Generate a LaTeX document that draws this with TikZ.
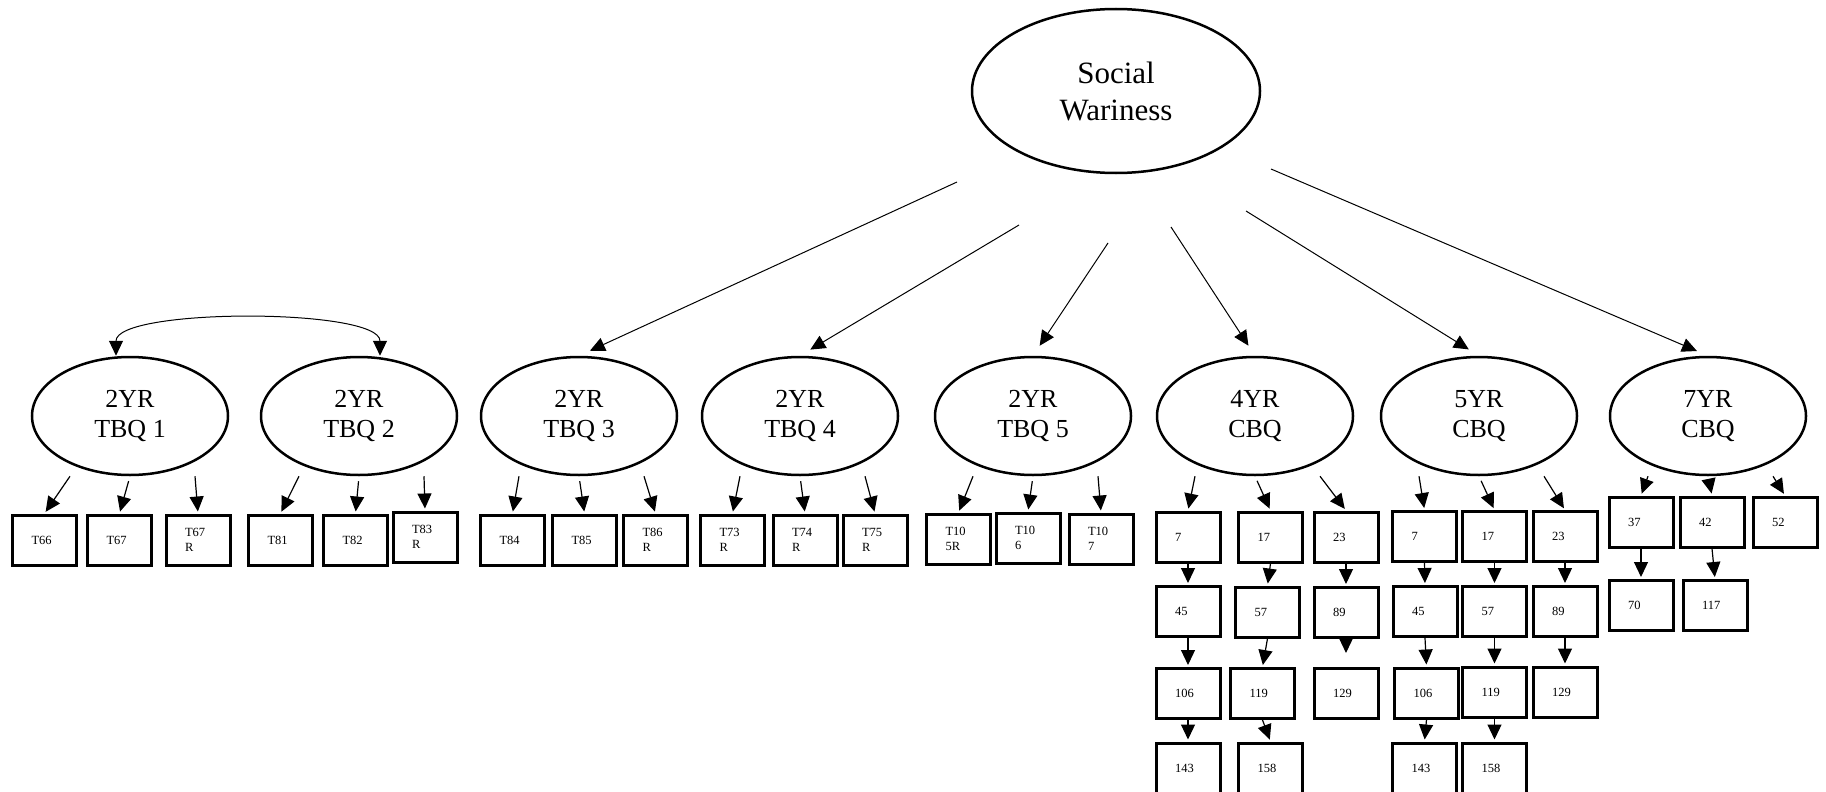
\documentclass[tikz,border=0pt]{standalone}
\usepackage{fontspec}
\setmainfont{Liberation Serif}
\usetikzlibrary{shapes.geometric,arrows.meta}

\tikzset{
  >={Triangle[length=15pt,width=14pt]},
  latent/.style={draw, ellipse, line width=2.5pt, inner sep=0pt,
    minimum width=196pt, minimum height=118pt, align=center,
    font=\fontsize{26}{30}\selectfont},
  item/.style={draw, rectangle, line width=3pt, inner xsep=19pt, inner ysep=0pt,
    text width=26pt, minimum height=50pt, align=left,
    font=\fontsize{12.5}{15}\selectfont},
  load/.style={->, line width=1pt, shorten >=12pt},
  ind/.style={->, line width=1.2pt, shorten >=2pt},
}

\begin{document}
\begin{tikzpicture}[x=1pt, y=-1pt]

      \useasboundingbox (0,0) rectangle (1826,792);

      % Top factor
      \node[latent, minimum width=288pt, minimum height=164pt,
            font=\fontsize{31}{37}\selectfont] (sw) at (1116,91) {Social\\Wariness};

      % Lower factors
      \foreach \nm/\x/\a/\b in {tbq1/130/2YR/TBQ 1, tbq2/359/2YR/TBQ 2,
          tbq3/579/2YR/TBQ 3, tbq4/800/2YR/TBQ 4, tbq5/1033/2YR/TBQ 5,
          cbq4/1255/4YR/CBQ, cbq5/1479/5YR/CBQ, cbq7/1708/7YR/CBQ}
          \node[latent] (\nm) at (\x,416) {\a\\\b};

      % TBQ items
      \foreach \nm/\x/\y/\txt in {t66/44.5/540/T66, t67/119.5/540/T67,
          t67r/198/540/T67\\R, t81/280.5/540/T81, t82/355.5/540/T82,
          t83r/425/537/T83\\R, t84/512.5/540/T84, t85/584.5/540/T85,
          t86r/655.5/540/T86\\R, t73r/732.5/540/T73\\R, t74r/805/540/T74\\R,
          t75r/875/540/T75\\R, t105r/958.5/539/T10\\5R, t106/1028/538/T10\\6,
          t107/1101/539/T10\\7}
          \node[item] (\nm) at (\x,\y) {\txt};

      % CBQ items, 4YR
      \foreach \n/\x/\y in {7/1188/537, 45/1188/611.5, 106/1188/693.5, 143/1188/768,
          17/1270.5/537, 57/1267.5/612, 119/1262.5/693.5, 158/1270.5/768,
          23/1346/537, 89/1346/612.5, 129/1346/693.5}
          \node[item] (c4n\n) at (\x,\y) {\n};

      % CBQ items, 5YR
      \foreach \n/\x/\y in {7/1424.5/536.5, 45/1425/611.5, 106/1426.5/693, 143/1424.5/768,
          17/1494.5/536.5, 57/1494.5/611.5, 119/1494.5/692, 158/1494.5/768,
          23/1565/536.5, 89/1565/611.5, 129/1565/692}
          \node[item] (c5n\n) at (\x,\y) {\n};

      % CBQ items, 7YR
      \foreach \n/\x/\y in {37/1641/522, 42/1712/522, 52/1785/522,
          70/1641/605.5, 117/1715/605.5}
          \node[item] (c7n\n) at (\x,\y) {\n};

      % loadings from the top factor
      \coordinate (s1) at (957,182);
      \coordinate (s2) at (1019,225);
      \coordinate (s3) at (1108,243);
      \coordinate (s4) at (1171,227);
      \coordinate (s5) at (1246,211);
      \coordinate (s6) at (1271,169);
      \foreach \s/\t in {s1/tbq3, s2/tbq4, s3/tbq5, s4/cbq4, s5/cbq5, s6/cbq7}
          \draw[load] (\s) -- (\t.north);

      % correlation TBQ 1 - TBQ 2
      \draw[line width=1pt, <->] ([xshift=-14pt]tbq1.north)
          .. controls +(0,-48) and +(0,-48) .. ([xshift=21pt]tbq2.north);

      % factors to items
      \foreach \lat/\a/\b/\c in {tbq1/t66/t67/t67r, tbq2/t81/t82/t83r,
          tbq3/t84/t85/t86r, tbq4/t73r/t74r/t75r, tbq5/t105r/t106/t107,
          cbq4/c4n7/c4n17/c4n23, cbq5/c5n7/c5n17/c5n23, cbq7/c7n37/c7n42/c7n52}
      {
          \draw[ind] ([xshift=-60pt]\lat.south) -- (\a.north);
          \draw[ind, shorten <=5pt] (\lat.south) -- (\b.north);
          \draw[ind] ([xshift=65pt]\lat.south) -- (\c.north);
      }

      % item chains
      \foreach \a/\b in {c4n7/c4n45, c4n45/c4n106, c4n106/c4n143,
          c4n17/c4n57, c4n57/c4n119, c4n119/c4n158, c4n23/c4n89,
          c5n7/c5n45, c5n45/c5n106, c5n106/c5n143,
          c5n17/c5n57, c5n57/c5n119, c5n119/c5n158,
          c5n23/c5n89, c5n89/c5n129, c7n37/c7n70, c7n42/c7n117}
          \draw[ind] (\a.south) -- (\b.north);
      \draw[ind, shorten >=14pt] (c4n89.south) -- (c4n129.north);

\end{tikzpicture}
\end{document}
